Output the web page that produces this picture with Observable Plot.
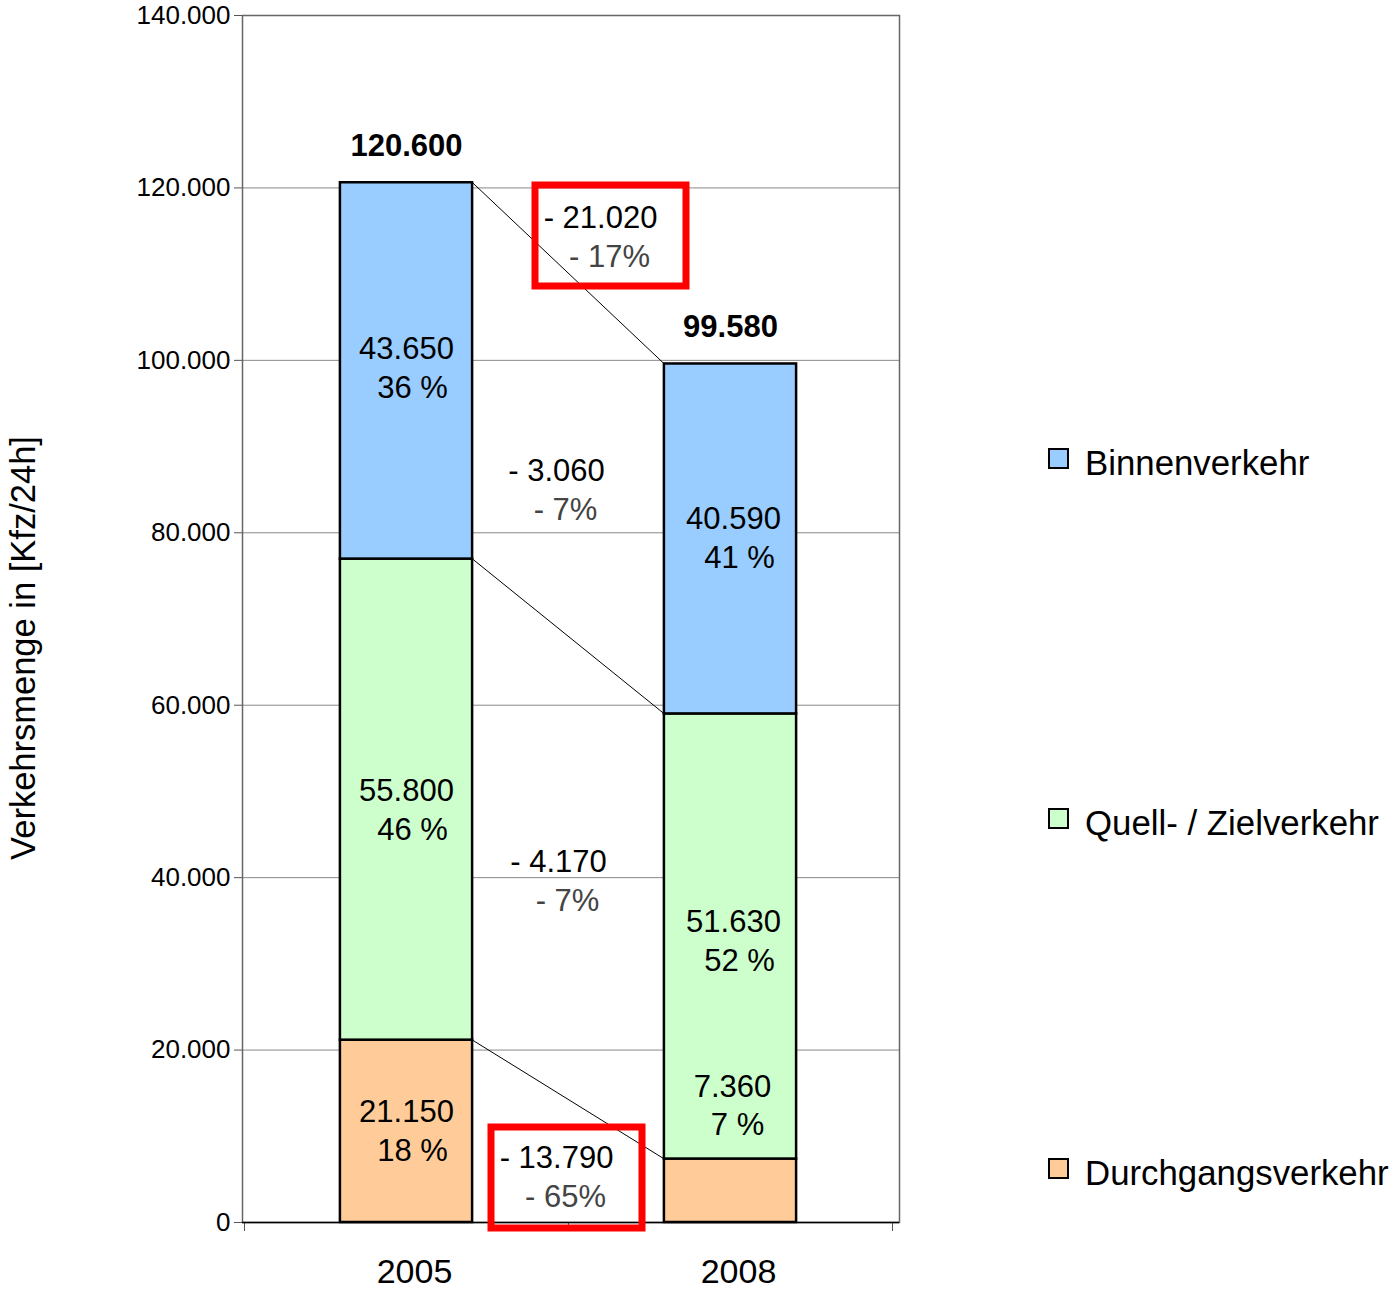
<!DOCTYPE html>
<html>
<head>
<meta charset="utf-8">
<script src="https://cdn.jsdelivr.net/npm/d3@7"></script>
<script src="https://cdn.jsdelivr.net/npm/@observablehq/plot@0.6"></script>
<style>
  html, body { margin: 0; padding: 0; background: #fff; }
  body { font-family: "Liberation Sans", Arial, Helvetica, sans-serif; }
  #wrap { position: relative; width: 1393px; height: 1289px; }
  #wrap svg { display: block; }
  .lg-swatch { position: absolute; width: 21px; height: 21px; box-sizing: border-box; border: 2.5px solid #000; }
  .lg-text { position: absolute; font-size: 34.8px; line-height: 1; color: #000; white-space: nowrap; }
</style>
</head>
<body>
<div id="wrap"></div>
<script>
// ---------- data ----------
const years = ["2005", "2008"];
const categories = ["Durchgangsverkehr", "Quell- / Zielverkehr", "Binnenverkehr"];
const values2005 = [21150, 55800, 43650];
const values2008 = [7360, 51630, 40590];
const shares2005 = [18, 46, 36];
const shares2008 = [7, 52, 41];
const totals = [120600, 99580];
const changeValues = [-13790, -4170, -3060];
const changePercents = [-65, -7, -7];
const totalChange = -21020;
const totalChangePercent = -17;
const highlightedChanges = [true, false, false];
const yTicks = [0, 20000, 40000, 60000, 80000, 100000, 120000, 140000];
const colors = ["#FFCC99", "#CCFFCC", "#99CCFF"];

// ---------- style ----------
const half = 0.204;                                  // half bar width in x units
const labelDx = [0, 3];                              // per-year px shift of in-bar labels
const labelDy = [[0, 11, -2], [0, 5, 0]];            // per-segment px shift of in-bar labels
const changeNudge = [[-12, -2.6], [-10, -5.6], [-12, 16.5]]; // px offset of first change line
const totalNudge = [32, 35.7];
const boxNudgeTotal = [42, 52.7];
const boxNudgeCat = [-2, 16.4];
const FONT = "'Liberation Sans', Arial, Helvetica, sans-serif";

const fmt = d3.formatLocale({decimal: ",", thousands: ".", grouping: [3], currency: ["", " €"]}).format(",d");
const signed = v => (v < 0 ? "- " : "+ ") + fmt(Math.abs(v));
const signedPct = v => (v < 0 ? "- " : "+ ") + Math.abs(v) + "%";

// ---------- derived tables ----------
const series = [values2005, values2008];
const shares = [shares2005, shares2008];
const segments = [];
years.forEach((yr, i) => {
  let acc = 0;
  categories.forEach((cat, j) => {
    const v = series[i][j];
    segments.push({
      year: yr, i, j, cat, value: v, share: shares[i][j],
      y1: acc, y2: acc + v, x1: i + 0.5 - half, x2: i + 0.5 + half, xc: i + 0.5
    });
    acc += v;
  });
});
const seg = (i, j) => segments.find(s => s.i === i && s.j === j);
const connectors = categories.map((c, j) => ({
  x1: 0.5 + half, y1: seg(0, j).y2, x2: 1.5 - half, y2: seg(1, j).y2
}));
const changes = categories.map((c, j) => ({
  j, x: 1,
  y: ((seg(0, j).y1 + seg(0, j).y2) / 2 + (seg(1, j).y1 + seg(1, j).y2) / 2) / 2,
  value: changeValues[j], pct: changePercents[j], highlight: highlightedChanges[j]
}));
const totalRows = years.map((yr, i) => ({x: i + 0.5, total: totals[i]}));
const totalChangeRow = [{x: 1, y: totals[0], value: totalChange, pct: totalChangePercent}];
const yearRows = years.map((yr, i) => ({x: i + 0.5, label: yr}));

const boxSymbol = { draw(ctx) { ctx.rect(-75.5, -50.5, 151, 101); } };

// in-bar label marks (one pair per segment, so each can carry its own nudge)
const inBarMarks = segments.flatMap(s => {
  const small = s.value < 10000;
  const dx = labelDx[s.i];
  const ddy = labelDy[s.i][s.j];
  const yAcc = small ? (d => d.y2) : (d => (d.y1 + d.y2) / 2);
  const dy1 = small ? -72 : -19.5 + ddy;
  const dy2 = small ? -34 : 19.5 + ddy;
  return [
    Plot.text([s], {x: "xc", y: yAcc, text: d => fmt(d.value), dx: dx + (small ? -1 : 0), dy: dy1, fontSize: 31, fill: "#000"}),
    Plot.text([s], {x: "xc", y: yAcc, text: d => d.share + " %", dx: dx + (small ? 4 : 6), dy: dy2, fontSize: 31, fill: "#000"})
  ];
});

const changeMarks = changes.flatMap(d => {
  const [dx, dy] = changeNudge[d.j];
  const m = [
    Plot.text([d], {x: "x", y: "y", text: r => signed(r.value), dx, dy, fontSize: 31, fill: "#000"}),
    Plot.text([d], {x: "x", y: "y", text: r => signedPct(r.pct), dx: dx + 9, dy: dy + 39, fontSize: 31, fill: "#444"})
  ];
  if (d.highlight) {
    m.push(Plot.dot([d], {x: "x", y: "y", symbol: boxSymbol, stroke: "#FF0000", strokeWidth: 7, fill: "none",
      dx: boxNudgeCat[0], dy: boxNudgeCat[1]}));
  }
  return m;
});

const chart = Plot.plot({
  width: 1393,
  height: 1289,
  marginLeft: 242,
  marginRight: 494,
  marginTop: 15,
  marginBottom: 67,
  x: {domain: [0, 2], range: [244, 892], axis: null},
  y: {domain: [0, 140000], axis: null},
  style: {fontFamily: FONT, background: "white", color: "black", overflow: "visible"},
  marks: [
    Plot.gridY(yTicks, {stroke: "#888", strokeOpacity: 1, strokeWidth: 1}),
    Plot.frame({stroke: "#666", strokeWidth: 1.5}),
    Plot.axisY({ticks: yTicks, tickFormat: fmt, tickSize: 8, tickPadding: 4, fontSize: 26, label: null, stroke: "#555", fill: "#000"}),
    Plot.axisX({ticks: [0, 1, 2], tickFormat: () => "", tickSize: 9, stroke: "#555", label: null}),
    Plot.text(yearRows, {x: "x", y: () => 0, text: "label", dx: 8, dy: 50, fontSize: 34, fill: "#000"}),
    Plot.link(connectors, {x1: "x1", y1: "y1", x2: "x2", y2: "y2", stroke: "#000", strokeWidth: 1}),
    Plot.rect(segments, {x1: "x1", x2: "x2", y1: "y1", y2: "y2", fill: d => colors[d.j], stroke: "#000", strokeWidth: 2.5}),
    Plot.ruleY([0], {stroke: "#000", strokeWidth: 1.5}),
    ...inBarMarks,
    // totals
    Plot.text(totalRows, {x: "x", y: "total", text: d => fmt(d.total), dy: -37, fontSize: 31, fontWeight: "bold", fill: "#000"}),
    // total change
    Plot.text(totalChangeRow, {x: "x", y: "y", text: d => signed(d.value), dx: totalNudge[0], dy: totalNudge[1], fontSize: 31, fill: "#000"}),
    Plot.text(totalChangeRow, {x: "x", y: "y", text: d => signedPct(d.pct), dx: totalNudge[0] + 9, dy: totalNudge[1] + 39, fontSize: 31, fill: "#444"}),
    Plot.dot(totalChangeRow, {x: "x", y: "y", symbol: boxSymbol, stroke: "#FF0000", strokeWidth: 7, fill: "none",
      dx: boxNudgeTotal[0], dy: boxNudgeTotal[1]}),
    ...changeMarks,
    // y-axis title
    Plot.text(["Verkehrsmenge in [Kfz/24h]"], {frameAnchor: "left", textAnchor: "middle", rotate: -90, dx: -219, dy: 29, fontSize: 34.5, fill: "#000"})
  ]
});

const wrap = document.getElementById("wrap");
wrap.appendChild(chart);

// legend (right side), top-to-bottom order as in reference
const legendItems = [
  {label: categories[2], color: colors[2], swatchTop: 448, textTop: 446},
  {label: categories[1], color: colors[1], swatchTop: 808, textTop: 806},
  {label: categories[0], color: colors[0], swatchTop: 1158, textTop: 1156}
];
legendItems.forEach(it => {
  const sw = document.createElement("div");
  sw.className = "lg-swatch";
  sw.style.left = "1048px";
  sw.style.top = it.swatchTop + "px";
  sw.style.background = it.color;
  wrap.appendChild(sw);
  const tx = document.createElement("div");
  tx.className = "lg-text";
  tx.style.left = "1085px";
  tx.style.top = it.textTop + "px";
  tx.textContent = it.label;
  wrap.appendChild(tx);
});
</script>
</body>
</html>
